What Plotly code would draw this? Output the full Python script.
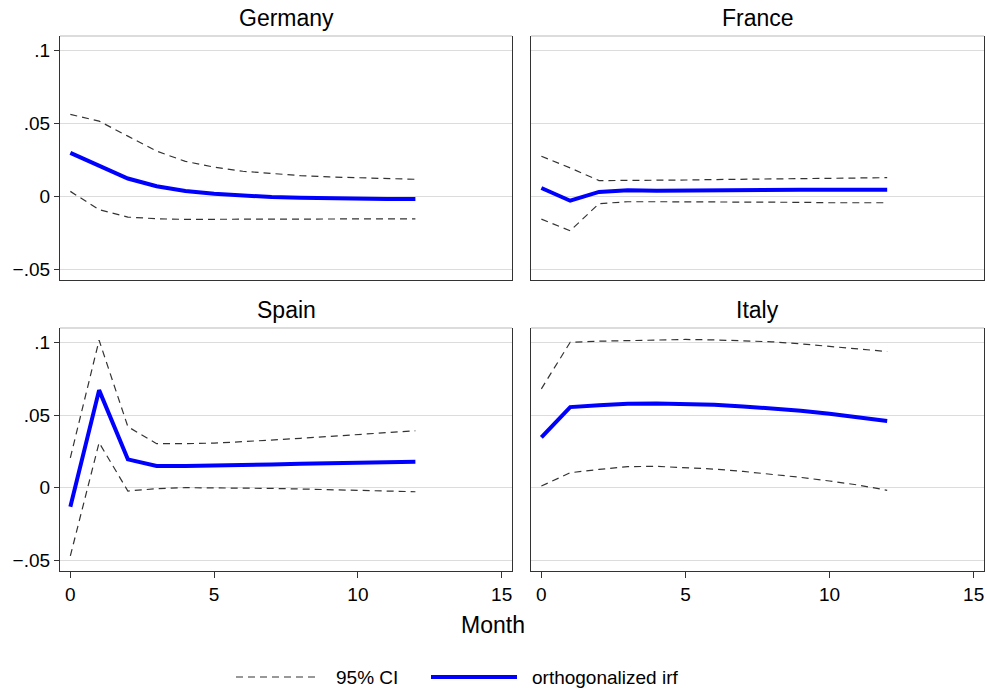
import plotly.graph_objects as go

months = list(range(13))
countries = ["Germany", "France", "Spain", "Italy"]

irf = {
    "Germany": [0.0298, 0.0213, 0.0122, 0.0069, 0.0037, 0.0018, 0.0005, -0.0005, -0.0010, -0.0014, -0.0016, -0.0018, -0.0018],
    "France":  [0.0057, -0.0030, 0.0030, 0.0041, 0.0039, 0.0041, 0.0044, 0.0044, 0.0045, 0.0045, 0.0045, 0.0046, 0.0046],
    "Spain":   [-0.0131, 0.0672, 0.0195, 0.0149, 0.0149, 0.0151, 0.0158, 0.0160, 0.0165, 0.0170, 0.0174, 0.0177, 0.0179],
    "Italy":   [0.0346, 0.0555, 0.0567, 0.0578, 0.0580, 0.0578, 0.0571, 0.0560, 0.0546, 0.0530, 0.0510, 0.0487, 0.0460],
}
ci_upper = {
    "Germany": [0.0562, 0.0516, 0.0413, 0.0310, 0.0240, 0.0200, 0.0172, 0.0156, 0.0142, 0.0133, 0.0126, 0.0122, 0.0117],
    "France":  [0.0275, 0.0195, 0.0108, 0.0108, 0.0110, 0.0112, 0.0115, 0.0117, 0.0119, 0.0122, 0.0124, 0.0126, 0.0128],
    "Spain":   [0.0206, 0.1016, 0.0420, 0.0303, 0.0303, 0.0307, 0.0317, 0.0326, 0.0340, 0.0353, 0.0367, 0.0381, 0.0392],
    "Italy":   [0.0681, 0.1002, 0.1009, 0.1014, 0.1018, 0.1021, 0.1018, 0.1014, 0.1005, 0.0991, 0.0975, 0.0956, 0.0938],
}
ci_lower = {
    "Germany": [0.0034, -0.0092, -0.0142, -0.0154, -0.0158, -0.0158, -0.0158, -0.0158, -0.0158, -0.0157, -0.0156, -0.0155, -0.0154],
    "France":  [-0.0156, -0.0236, -0.0050, -0.0037, -0.0037, -0.0037, -0.0039, -0.0039, -0.0041, -0.0041, -0.0044, -0.0044, -0.0044],
    "Spain":   [-0.0470, 0.0310, -0.0023, -0.0007, 0.0000, 0.0000, -0.0002, -0.0005, -0.0009, -0.0014, -0.0018, -0.0023, -0.0028],
    "Italy":   [0.0011, 0.0103, 0.0126, 0.0145, 0.0147, 0.0140, 0.0128, 0.0112, 0.0094, 0.0071, 0.0046, 0.0018, -0.0018],
}

y_tickvals = [-0.05, 0, 0.05, 0.1]
y_ticktext = ["\u2212.05", "0", ".05", ".1"]
x_tickvals = [0, 5, 10, 15]
x_ticktext = ["0", "5", "10", "15"]
legend_labels = ["95% CI", "orthogonalized irf"]

W, H = 987, 689
FONT = "Liberation Sans, Arial, sans-serif"


def px(x):
    return x / W


def py(y):
    return 1 - y / H


# panel boxes in window pixels (left, right, top, bottom)
boxes = [
    (60, 512, 36, 280),
    (531, 984, 36, 280),
    (60, 512, 328, 571),
    (531, 984, 328, 571),
]

CI_LINE = dict(color="#333333", width=1.2, dash="7px,5px")
IRF_LINE = dict(color="#0000ff", width=4)

fig = go.Figure()
layout = dict(
    width=W, height=H,
    margin=dict(l=0, r=0, t=0, b=0),
    paper_bgcolor="white", plot_bgcolor="white",
    font=dict(family=FONT, size=19, color="black"),
    showlegend=False,
)
annotations = []
shapes = []
for i, c in enumerate(countries):
    n = "" if i == 0 else str(i + 1)
    l, r, t, b = boxes[i]
    xd = [px(l), px(r)]
    yd = [py(b), py(t)]
    left_col = i in (0, 2)
    bottom_row = i in (2, 3)
    layout["xaxis" + n] = dict(
        domain=xd, range=[-0.36, 15.36], anchor="y" + n,
        tickvals=x_tickvals, ticktext=x_ticktext, showticklabels=bottom_row,
        ticks="outside" if bottom_row else "", ticklen=6, tickcolor="#333", tickwidth=1.2,
        showgrid=False, zeroline=False, showline=True, linecolor="#333", linewidth=1.3,
        tickfont=dict(size=19),
    )
    layout["yaxis" + n] = dict(
        domain=yd, range=[-0.0574, 0.1100], anchor="x" + n,
        tickvals=y_tickvals, ticktext=y_ticktext, showticklabels=left_col,
        ticks="outside" if left_col else "", ticklen=5, tickcolor="#333", tickwidth=1.2,
        showgrid=True, gridcolor="#dcdcdc", gridwidth=1, zeroline=False,
        showline=True, linecolor="#333", linewidth=1.3, mirror=True,
        tickfont=dict(size=19),
    )
    # light grey top border of the plot region
    shapes.append(dict(type="line", xref="paper", yref="paper",
                       x0=xd[0], x1=xd[1], y0=yd[1], y1=yd[1],
                       line=dict(color="#d0d0d0", width=1.5)))
    annotations.append(dict(text=c, xref="paper", yref="paper",
                            x=(xd[0] + xd[1]) / 2, y=py(t - 18),
                            xanchor="center", yanchor="middle", showarrow=False,
                            font=dict(size=23)))
    fig.add_trace(go.Scatter(x=months, y=ci_upper[c], mode="lines", line=CI_LINE,
                             name=legend_labels[0], xaxis="x" + n, yaxis="y" + n))
    fig.add_trace(go.Scatter(x=months, y=ci_lower[c], mode="lines", line=CI_LINE,
                             name=legend_labels[0], xaxis="x" + n, yaxis="y" + n))
    fig.add_trace(go.Scatter(x=months, y=irf[c], mode="lines", line=IRF_LINE,
                             name=legend_labels[1], xaxis="x" + n, yaxis="y" + n))

annotations.append(dict(text="Month", xref="paper", yref="paper", x=px(493), y=py(625),
                        xanchor="center", yanchor="middle", showarrow=False,
                        font=dict(size=23)))

# legend (long line samples as in the original)
leg_y = py(677)
shapes.append(dict(type="line", xref="paper", yref="paper", x0=px(236), x1=px(320),
                   y0=leg_y, y1=leg_y, line=CI_LINE))
shapes.append(dict(type="line", xref="paper", yref="paper", x0=px(431), x1=px(517),
                   y0=leg_y, y1=leg_y, line=IRF_LINE))
annotations.append(dict(text=legend_labels[0], xref="paper", yref="paper", x=px(334), y=leg_y,
                        xanchor="left", yanchor="middle", showarrow=False, font=dict(size=19)))
annotations.append(dict(text=legend_labels[1], xref="paper", yref="paper", x=px(530), y=leg_y,
                        xanchor="left", yanchor="middle", showarrow=False, font=dict(size=19)))

layout["annotations"] = annotations
layout["shapes"] = shapes
fig.update_layout(**layout)
fig.write_html(
    "out.html",
    config={"displayModeBar": False},
    post_script="document.documentElement.style.margin='0';document.body.style.margin='0';"
                "document.body.style.overflow='hidden';",
)
